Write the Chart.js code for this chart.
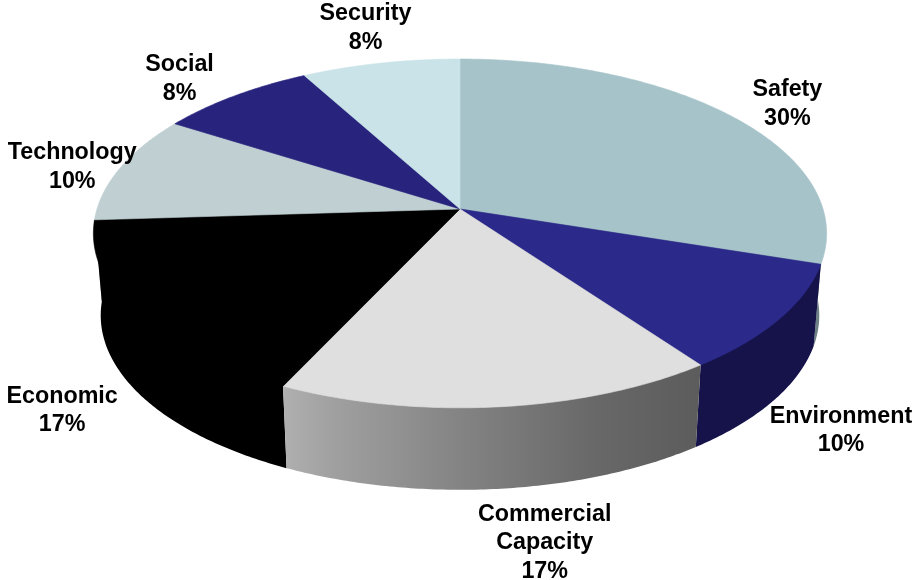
<!DOCTYPE html>
<html>
<head>
<meta charset="utf-8">
<title>Risk categories</title>
<script src="https://cdn.jsdelivr.net/npm/chart.js@4"></script>
<style>
  html, body { margin: 0; background: #fff; }
  #wrap { width: 914px; height: 580px; }
</style>
</head>
<body>
<div id="wrap"><canvas id="pieChart" width="914" height="580"></canvas></div>
<script>
const categories = ['Safety', 'Environment', 'Commercial Capacity', 'Economic', 'Technology', 'Social', 'Security'];
const shares = [30, 10, 17, 17, 10, 8, 8];
const topColors = ['#a5c3c9', '#2b2a8a', '#dfdfdf', '#000000', '#bfcfd2', '#28247e', '#c9e3e8'];
const wallColors = ['#6d8084', '#15134a', null, '#000000', '#7f8a8c', '#15134a', '#849598'];

// perspective of the tilted disc
const SQUASH = 0.471;
const TILT = -0.14;
const DEPTH = 82;
const BOTTOM_SHRINK = 0.98;

// label block centre, relative to the rim point at the middle of each slice
const labelOffsets = [[56, -12], [61, 112], [45, 136], [-72, 97], [-48, -1], [-55, -17], [-15, -35]];
const labelFont = 'bold 23.3px "Liberation Sans", Arial, sans-serif';
const lineHeight = 28.4;

function rimPoint(el, angle, bottom) {
  const s = Math.sin(angle);
  const d = 1 + TILT * s;
  const r = el.outerRadius;
  if (bottom) {
    return [el.x + BOTTOM_SHRINK * r * Math.cos(angle) / d, el.y + DEPTH + r * SQUASH * s / d];
  }
  return [el.x + r * Math.cos(angle) / d, el.y + r * SQUASH * s / d];
}

function rimPath(ctx, el, from, to, bottom) {
  const steps = Math.max(2, Math.ceil(Math.abs(to - from) / 0.01));
  for (let i = 0; i <= steps; i++) {
    const p = rimPoint(el, from + (to - from) * i / steps, bottom);
    ctx.lineTo(p[0], p[1]);
  }
}

function wallFill(ctx, el, i) {
  if (wallColors[i]) return wallColors[i];
  // the front wall gets lit from the left
  const left = rimPoint(el, el.endAngle, false)[0];
  const right = rimPoint(el, el.startAngle, false)[0];
  const g = ctx.createLinearGradient(left, 0, right, 0);
  g.addColorStop(0, '#b0b0b0');
  g.addColorStop(0.12, '#a0a0a0');
  g.addColorStop(0.42, '#848484');
  g.addColorStop(0.75, '#686868');
  g.addColorStop(1, '#5c5c5c');
  return g;
}

// arcs keep their angles from the controller, only the painting is replaced
const tiltedPie = {
  id: 'tiltedPie',
  beforeDatasetDraw(chart, args) {
    const ctx = chart.ctx;
    const arcs = args.meta.data;
    const midSin = el => Math.sin((el.startAngle + el.endAngle) / 2);
    const backToFront = arcs.map((el, i) => i).sort((a, b) => midSin(arcs[a]) - midSin(arcs[b]));

    // walls run in under the top face so the shared rim leaves no light seam
    backToFront.forEach(i => {
      const el = arcs[i];
      const start = rimPoint(el, el.startAngle, false);
      const end = rimPoint(el, el.endAngle, false);
      ctx.beginPath();
      ctx.moveTo(el.x, el.y);
      ctx.lineTo(start[0], start[1]);
      rimPath(ctx, el, el.startAngle, el.endAngle, true);
      ctx.lineTo(end[0], end[1]);
      ctx.closePath();
      ctx.fillStyle = wallFill(ctx, el, i);
      ctx.fill();
    });

    arcs.forEach(el => {
      ctx.beginPath();
      ctx.moveTo(el.x, el.y);
      rimPath(ctx, el, el.startAngle, el.endAngle, false);
      ctx.closePath();
      ctx.fillStyle = el.options.backgroundColor;
      ctx.strokeStyle = el.options.backgroundColor;
      ctx.lineWidth = 0.6;
      ctx.fill();
      ctx.stroke();
    });
    return false;
  },
  afterDraw(chart) {
    const ctx = chart.ctx;
    const arcs = chart.getDatasetMeta(0).data;
    ctx.save();
    ctx.font = labelFont;
    ctx.fillStyle = '#000';
    ctx.textAlign = 'center';
    ctx.textBaseline = 'middle';
    arcs.forEach((el, i) => {
      const rim = rimPoint(el, (el.startAngle + el.endAngle) / 2, false);
      const x = rim[0] + labelOffsets[i][0];
      const y = rim[1] + labelOffsets[i][1];
      const lines = categories[i].split(' ').concat(shares[i] + '%');
      lines.forEach((line, n) => {
        ctx.fillText(line, x, y + (n - (lines.length - 1) / 2) * lineHeight);
      });
    });
    ctx.restore();
  }
};

new Chart(document.getElementById('pieChart').getContext('2d'), {
  type: 'pie',
  data: {
    labels: categories,
    datasets: [{
      data: shares,
      backgroundColor: topColors,
      borderWidth: 0
    }]
  },
  options: {
    responsive: false,
    animation: false,
    radius: 363,
    layout: { padding: { left: 6, right: 0, top: 0, bottom: 162 } },
    plugins: {
      legend: { display: false },
      tooltip: { enabled: false }
    }
  },
  plugins: [tiltedPie]
});
</script>
</body>
</html>
